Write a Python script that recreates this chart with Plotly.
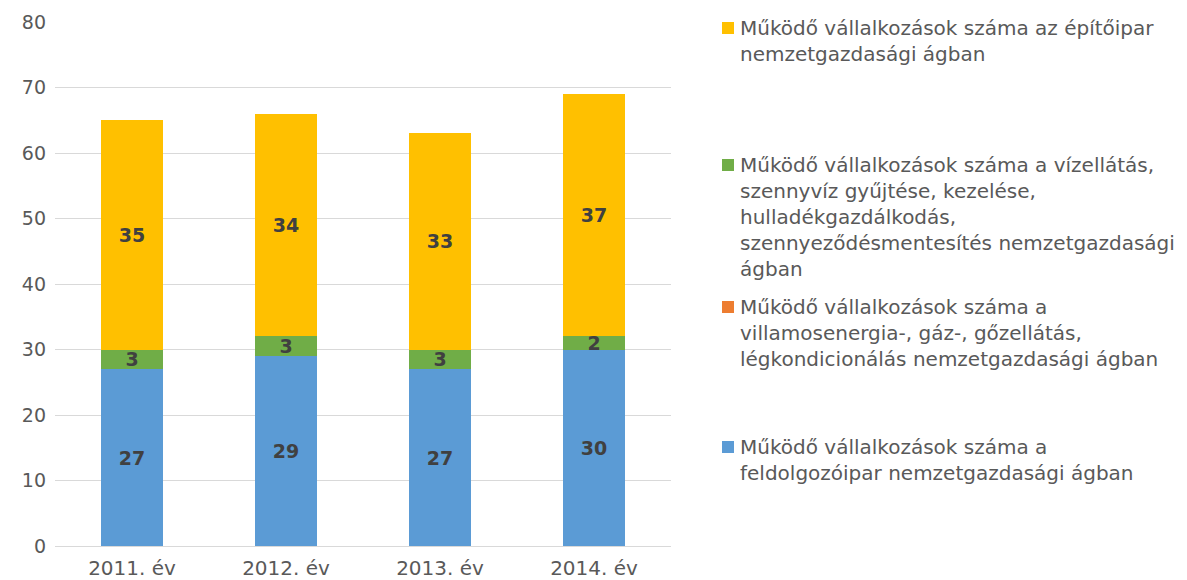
import plotly.graph_objects as go

categories = ["2011. év", "2012. év", "2013. év", "2014. év"]
feldolgozoipar = [27, 29, 27, 30]
villamosenergia = [0, 0, 0, 0]
vizellatas = [3, 3, 3, 2]
epitoipar = [35, 34, 33, 37]

names = [
    "Működő vállalkozások száma a<br>feldolgozóipar nemzetgazdasági ágban",
    "Működő vállalkozások száma a<br>villamosenergia-, gáz-, gőzellátás,<br>légkondicionálás nemzetgazdasági ágban",
    "Működő vállalkozások száma a vízellátás,<br>szennyvíz gyűjtése, kezelése,<br>hulladékgazdálkodás,<br>szennyeződésmentesítés nemzetgazdasági<br>ágban",
    "Működő vállalkozások száma az építőipar<br>nemzetgazdasági ágban",
]
colors = ["#5B9BD5", "#ED7D31", "#70AD47", "#FFC000"]
series = [feldolgozoipar, villamosenergia, vizellatas, epitoipar]

FONT = "DejaVu Sans"
fig = go.Figure()
for vals, col, nm in zip(series, colors, names):
    fig.add_trace(go.Bar(
        x=categories, y=vals, name=nm, marker=dict(color=col, line=dict(width=0)),
        text=[str(v) if v else "" for v in vals],
        textposition="inside", insidetextanchor="middle", textangle=0,
        textfont=dict(family=FONT, size=19, color="#404040", weight="bold"),
        constraintext="none", showlegend=False,
    ))

# plot area in page pixels (page has 8px body margin)
PX0, PX1, PY0, PY1 = 55, 671, 22, 546
def px(x):
    return (x - PX0) / (PX1 - PX0)
def py(y):
    return (PY1 - y) / (PY1 - PY0)

# custom legend: (first-line centre y in pixels, series index)
legend_items = [(28, 3), (165, 2), (307, 1), (447, 0)]
for cy, idx in legend_items:
    fig.add_annotation(
        x=px(738), y=py(cy - 14), xref="paper", yref="paper", xanchor="left", yanchor="top",
        text=names[idx], showarrow=False, align="left",
        font=dict(family=FONT, size=20, color="#595959"),
    )
    fig.add_shape(type="rect", xref="paper", yref="paper",
                  x0=px(722), x1=px(734), y0=py(cy + 6), y1=py(cy - 6),
                  fillcolor=colors[idx], line=dict(width=0))

W, H = 1179, 572
fig.update_layout(
    barmode="stack", bargap=0.6,
    width=W, height=H,
    margin=dict(l=PX0 - 8, r=W - (PX1 - 8), t=PY0 - 8, b=H - (PY1 - 8)),
    plot_bgcolor="white", paper_bgcolor="white",
    font=dict(family=FONT, size=19, color="#595959"),
    uniformtext=dict(minsize=19, mode="show"),
)
fig.update_yaxes(range=[0, 80], dtick=10, gridcolor="#D9D9D9", gridwidth=1,
                 zeroline=False, showline=False, ticks="", ticklabelstandoff=8,
                 automargin=False, tickfont=dict(size=19, color="#595959"))
fig.update_xaxes(showline=True, linecolor="#D9D9D9", linewidth=1, ticks="",
                 automargin=False, ticklabelstandoff=4,
                 tickfont=dict(size=20, color="#595959"))

fig.write_html("out.html")
